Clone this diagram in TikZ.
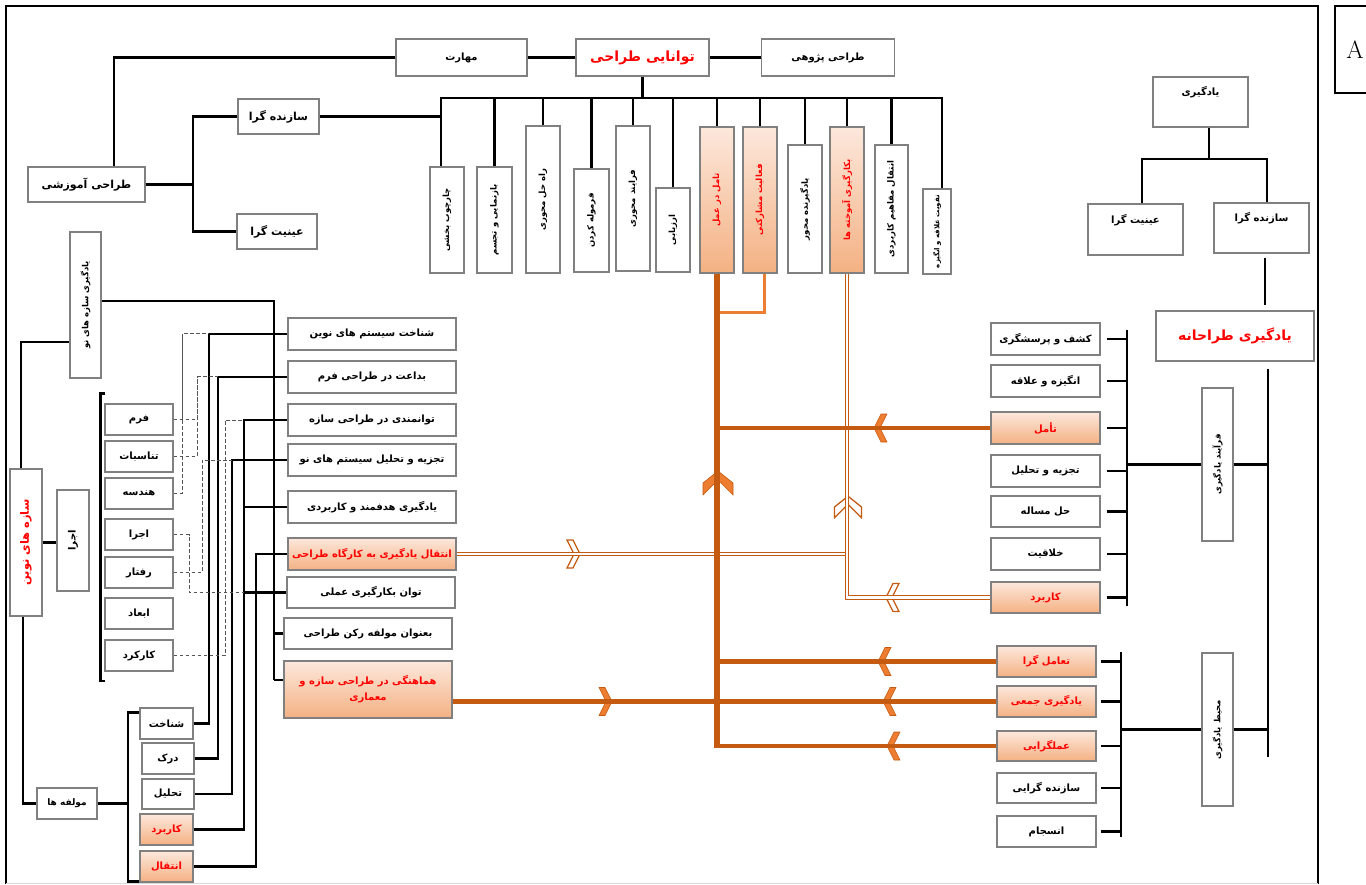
\documentclass[tikz,border=0pt]{standalone}
\usepackage{fontspec}
\usepackage{xcolor}
\usepackage{tikz}
\TeXXeTstate=1
\newfontfamily\arabicfont[Script=Arabic]{DejaVu Sans}
\newcommand\fatxt[1]{\beginR#1\endR}
\newcommand\fasize[1]{\arabicfont\bfseries\fontsize{#1}{#1}\selectfont}
\definecolor{boxgray}{HTML}{808080}
\definecolor{peachL}{HTML}{FCE8DC}
\definecolor{peachD}{HTML}{F4B183}
\definecolor{orD}{HTML}{C55A11}
\definecolor{orM}{HTML}{ED7D31}
\definecolor{txtred}{HTML}{FF0000}
\definecolor{dashgray}{HTML}{555555}
\tikzset{
  box/.style={rectangle,draw=boxgray,line width=1.2pt,fill=white,inner sep=1pt,
    align=center,font=\fasize{10}},
  obox/.style={box,top color=peachL,bottom color=peachD,text=txtred},
  vbox/.style={box,rotate=90,font=\fasize{8.5}},
  ovbox/.style={vbox,top color=peachL,bottom color=peachD,text=txtred},
  topbox/.style={box,text height=8pt,text depth=20pt},
  link/.style={line width=2.2pt,draw=black},
  dashln/.style={dash pattern=on 3.5pt off 2.5pt,line width=1pt,draw=dashgray},
  trunk/.style={line width=6pt,draw=orD},
  feed/.style={line width=4.5pt,draw=orD},
  twin/.style={draw=orD,double=white,double distance=2.2pt,line width=1.3pt},
  hook/.style={line width=3pt,draw=orM},
  solidhead/.style={draw=orD,fill=orM,line width=0.6pt},
  hollowhead/.style={draw=orD,fill=white,line width=1.3pt},
  chev/.pic={\path[pic actions] (-7,-14) -- (-1,-14) -- (6,0) -- (-1,14) -- (-7,14) -- (0,0) -- cycle;},
  bigchev/.pic={\path[pic actions] (12,0) -- (0,15) -- (-12,15) -- (3,0) -- (-12,-15) -- (0,-15) -- cycle;}
}

\begin{document}
\begin{tikzpicture}[x=1pt,y=-1pt]
\useasboundingbox (0,0) rectangle (1366,885);
% frame
\draw[line width=2.4pt] (6,884) -- (6,6) -- (1318,6) -- (1318,884);
\draw[line width=0.8pt,draw=black!15] (6,883) -- (1318,883);
\node[draw,line width=1.5pt,minimum width=40,minimum height=87,inner sep=0pt,
  font=\fontsize{25}{25}\selectfont] (tagA) at (1355,49.5) {A};

% top row
\node[box,minimum width=131,minimum height=37] (mah) at (461.5,57.5) {\fatxt{مهارت}};
\node[box,minimum width=133,minimum height=37,text=txtred,font=\fasize{14}] (tav) at (642.5,57.5) {\fatxt{توانایی طراحی}};
\node[box,minimum width=133,minimum height=37] (pzh) at (828,57.5) {\fatxt{طراحی پژوهی}};
\node[box,minimum width=117,minimum height=35,font=\fasize{11}] (amz) at (86.5,184.5) {\fatxt{طراحی آموزشی}};
\node[box,minimum width=81,minimum height=35,font=\fasize{11}] (saz1) at (278.5,116.5) {\fatxt{سازنده گرا}};
\node[box,minimum width=80,minimum height=35,font=\fasize{11}] (ein1) at (277,231.5) {\fatxt{عینیت گرا}};

% design ability comb
\node[vbox,minimum width=106,minimum height=34] (v1) at (447,220) {\fatxt{چارچوب بخشی}};
\node[vbox,minimum width=106,minimum height=35] (v2) at (494.5,220) {\fatxt{بازنمایی و تجسم}};
\node[vbox,minimum width=147,minimum height=34] (v3) at (543,199.5) {\fatxt{راه حل محوری}};
\node[vbox,minimum width=103,minimum height=35] (v4) at (591.5,220.5) {\fatxt{فرموله کردن}};
\node[vbox,minimum width=145,minimum height=34] (v5) at (633,198.5) {\fatxt{فرایند محوری}};
\node[vbox,minimum width=84,minimum height=34] (v6) at (673,230) {\fatxt{ارزیابی}};
\node[ovbox,minimum width=146,minimum height=34] (v7) at (717,200) {\fatxt{تامل در عمل}};
\node[ovbox,minimum width=146,minimum height=34] (v8) at (760,200) {\fatxt{فعالیت مشارکتی}};
\node[vbox,minimum width=128,minimum height=34] (v9) at (805,209) {\fatxt{یادگیرنده محور}};
\node[ovbox,minimum width=146,minimum height=34] (v10) at (847,200) {\fatxt{بکارگیری آموخته ها}};
\node[vbox,minimum width=128,minimum height=33] (v11) at (891.5,209) {\fatxt{انتقال مفاهیم کاربردی}};
\node[vbox,minimum width=85,minimum height=28,font=\fasize{7}] (v12) at (937,231.5) {\fatxt{تقویت علاقه و انگیزه}};

% learning side
\node[topbox,minimum width=95,minimum height=50] (yad) at (1200.5,102) {\fatxt{یادگیری}};
\node[topbox,minimum width=95,minimum height=51] (ein2) at (1135.5,229.5) {\fatxt{عینیت گرا}};
\node[topbox,minimum width=95,minimum height=50] (saz2) at (1261.5,228) {\fatxt{سازنده گرا}};
\node[box,minimum width=158,minimum height=50,text=txtred,font=\fasize{14}] (yt) at (1235,336) {\fatxt{یادگیری طراحانه}};
\node[vbox,minimum width=153,minimum height=31] (fy) at (1217.5,464.5) {\fatxt{فرآیند یادگیری}};
\node[vbox,minimum width=153,minimum height=31] (my) at (1217.5,729.5) {\fatxt{محیط یادگیری}};

\node[box,minimum width=109,minimum height=32] (r1) at (1045.5,339) {\fatxt{کشف و پرسشگری}};
\node[box,minimum width=109,minimum height=32] (r2) at (1045.5,381) {\fatxt{انگیزه و علاقه}};
\node[obox,minimum width=109,minimum height=32] (r3) at (1045.5,428) {\fatxt{تأمل}};
\node[box,minimum width=109,minimum height=32] (r4) at (1045.5,471) {\fatxt{تجزیه و تحلیل}};
\node[box,minimum width=109,minimum height=31] (r5) at (1045.5,511.5) {\fatxt{حل مساله}};
\node[box,minimum width=109,minimum height=32] (r6) at (1045.5,554) {\fatxt{خلاقیت}};
\node[obox,minimum width=109,minimum height=31] (r7) at (1045.5,597.5) {\fatxt{کاربرد}};

\node[obox,minimum width=99,minimum height=31] (s1) at (1046.5,661.5) {\fatxt{تعامل گرا}};
\node[obox,minimum width=99,minimum height=31] (s2) at (1046.5,701.5) {\fatxt{یادگیری جمعی}};
\node[obox,minimum width=99,minimum height=30] (s3) at (1046.5,746) {\fatxt{عملگرایی}};
\node[box,minimum width=99,minimum height=30] (s4) at (1046.5,788) {\fatxt{سازنده گرایی}};
\node[box,minimum width=99,minimum height=31] (s5) at (1046.5,831.5) {\fatxt{انسجام}};

% new structures side
\node[box,minimum width=168,minimum height=32] (m1) at (372,334) {\fatxt{شناخت سیستم های نوین}};
\node[box,minimum width=168,minimum height=32] (m2) at (372,377) {\fatxt{بداعت در طراحی فرم}};
\node[box,minimum width=168,minimum height=32] (m3) at (372,420) {\fatxt{توانمندی در طراحی سازه}};
\node[box,minimum width=168,minimum height=32] (m4) at (372,460) {\fatxt{تجزیه و تحلیل سیستم های نو}};
\node[box,minimum width=168,minimum height=32] (m5) at (372,507) {\fatxt{یادگیری هدفمند و کاربردی}};
\node[obox,minimum width=168,minimum height=32] (m6) at (372,554) {\fatxt{انتقال یادگیری به کارگاه طراحی}};
\node[box,minimum width=168,minimum height=31] (m7) at (371,592.5) {\fatxt{توان بکارگیری عملی}};
\node[box,minimum width=168,minimum height=31] (m8) at (368,633.5) {\fatxt{بعنوان مولفه رکن طراحی}};
\node[obox,minimum width=168,minimum height=57] (m9) at (368,689.5) {\fatxt{هماهنگی در طراحی سازه و}\\[5pt]\fatxt{معماری}};

\node[vbox,minimum width=146,minimum height=31] (ys) at (85.5,305) {\fatxt{یادگیری سازه های نو}};
\node[vbox,minimum width=147,minimum height=32,text=txtred,font=\fasize{11.5}] (sn) at (26,542.5) {\fatxt{سازه های نوین}};
\node[vbox,minimum width=101,minimum height=32,font=\fasize{10}] (ej) at (73,540.5) {\fatxt{اجرا}};
\node[box,minimum width=60,minimum height=31,font=\fasize{9}] (mol) at (67,803.5) {\fatxt{مولفه ها}};

\node[box,minimum width=68,minimum height=31] (f1) at (139,419.5) {\fatxt{فرم}};
\node[box,minimum width=68,minimum height=31] (f2) at (139,456.5) {\fatxt{تناسبات}};
\node[box,minimum width=68,minimum height=31] (f3) at (139,493.5) {\fatxt{هندسه}};
\node[box,minimum width=68,minimum height=31] (f4) at (139,534.5) {\fatxt{اجرا}};
\node[box,minimum width=68,minimum height=31] (f5) at (139,572.5) {\fatxt{رفتار}};
\node[box,minimum width=68,minimum height=31] (f6) at (139,613.5) {\fatxt{ابعاد}};
\node[box,minimum width=68,minimum height=31] (f7) at (139,655.5) {\fatxt{کارکرد}};

\node[box,minimum width=53,minimum height=31] (g1) at (166.5,723.5) {\fatxt{شناخت}};
\node[box,minimum width=52,minimum height=31] (g2) at (168,758.5) {\fatxt{درک}};
\node[box,minimum width=52,minimum height=30] (g3) at (168,794) {\fatxt{تحلیل}};
\node[obox,minimum width=53,minimum height=31] (g4) at (166.5,829.5) {\fatxt{کاربرد}};
\node[obox,minimum width=53,minimum height=31] (g5) at (166.5,866.5) {\fatxt{انتقال}};

% top connectors
\draw[link] (mah) -- (tav); \draw[link] (tav) -- (pzh);
\draw[link] (mah.west) -| ([xshift=27.5pt]amz.north);
\coordinate (ja) at (193,184.5);
\draw[link] (amz.east) -- (ja); \draw[link] (saz1.west) -| (ja); \draw[link] (ein1.west) -| (ja);
\coordinate (bar) at (642.5,98);
\draw[link] (tav.south) -- (bar);
\draw[link] ([xshift=-6pt]v1.east) |- (bar); \draw[link] ([xshift=5pt]v12.east) |- (bar);
\draw[link] (v2.east) -- (v2.east |- bar); \draw[link] (v3.east) -- (v3.east |- bar);
\draw[link] (v4.east) -- (v4.east |- bar); \draw[link] (v5.east) -- (v5.east |- bar);
\draw[link] (v6.east) -- (v6.east |- bar); \draw[link] (v7.east) -- (v7.east |- bar);
\draw[link] (v8.east) -- (v8.east |- bar); \draw[link] (v9.east) -- (v9.east |- bar);
\draw[link] (v10.east) -- (v10.east |- bar); \draw[link] (v11.east) -- (v11.east |- bar);
\draw[link] (saz1.east) -- ([xshift=-6pt]v1.east |- saz1.east);

% learning connectors
\coordinate (jy) at (1209,159);
\draw[link] ([xshift=8.5pt]yad.south) -- (jy);
\draw[link] ([xshift=6.5pt]ein2.north) |- (jy); \draw[link] ([xshift=5.5pt]saz2.north) |- (jy);
\draw[link,shorten <=4pt,shorten >=5pt] ([xshift=3.5pt]saz2.south) -- ([xshift=3.5pt]saz2.south |- yt.north);
\coordinate (rb) at (1268,757);
\draw[link,shorten <=7pt] ([xshift=33pt]yt.south) -- (rb);
\draw[link] (fy.south) -- (fy.south -| rb); \draw[link] (my.south) -- (my.south -| rb);
\coordinate (ca) at (1127,330); \coordinate (cb) at (1127,606);
\draw[link] (ca) -- (cb); \draw[link] (fy.north) -- (fy.north -| ca);
\draw[link,shorten <=6pt] (r1.east) -- (r1.east -| ca); \draw[link,shorten <=6pt] (r2.east) -- (r2.east -| ca);
\draw[link,shorten <=6pt] (r3.east) -- (r3.east -| ca); \draw[link,shorten <=6pt] (r4.east) -- (r4.east -| ca);
\draw[link,shorten <=6pt] (r5.east) -- (r5.east -| ca); \draw[link,shorten <=6pt] (r6.east) -- (r6.east -| ca);
\draw[link,shorten <=6pt] (r7.east) -- (r7.east -| ca);
\coordinate (cc) at (1121,652); \coordinate (cd) at (1121,837);
\draw[link] (cc) -- (cd); \draw[link] (my.north) -- (my.north -| cc);
\draw[link,shorten <=4pt] (s1.east) -- (s1.east -| cc); \draw[link,shorten <=4pt] (s2.east) -- (s2.east -| cc);
\draw[link,shorten <=4pt] (s3.east) -- (s3.east -| cc); \draw[link,shorten <=4pt] (s4.east) -- (s4.east -| cc);
\draw[link,shorten <=4pt] (s5.east) -- (s5.east -| cc);

% orange flow
\pic[solidhead,rotate=90] at (718,483) {bigchev};
\pic[solidhead,rotate=180] at (880,428) {chev};
\pic[solidhead,rotate=180] at (884,661.5) {chev};
\pic[solidhead,rotate=180] at (889,701.5) {chev};
\pic[solidhead,rotate=180] at (893,746) {chev};
\pic[solidhead] at (606,701.5) {chev};
\pic[hollowhead] at (574,554) {chev};
\pic[hollowhead,rotate=90,scale=0.9] at (848,507) {bigchev};
\pic[hollowhead,rotate=180] at (892,597.5) {chev};
\draw[twin] (m6.east) -- (v10.west |- m6.east);
\draw[twin] (v10.west) |- (r7.west);
\draw[hook] ([xshift=4pt]v8.west) |- ([yshift=-39pt]v7.west);
\draw[feed] (m9.east |- s2.west) -- (s2.west);
\draw[feed] (v7.west |- r3.west) -- (r3.west);
\draw[feed] (v7.west |- s1.west) -- (s1.west);
\draw[feed] (v7.west |- s3.west) -- (s3.west);
\draw[trunk] (v7.west) -- ([yshift=-2pt]v7.west |- s3.west);

% new structures connectors
\coordinate (yb) at (274,680);
\draw[link] ([yshift=4pt]ys.south) -| (yb);
\draw[link] (m1.west -| yb) -- (m1.west); \draw[link] (m2.west -| yb) -- (m2.west);
\draw[link] (m3.west -| yb) -- (m3.west); \draw[link] (m4.west -| yb) -- (m4.west);
\draw[link] (m5.west -| yb) -- (m5.west); \draw[link] (m6.west -| yb) -- (m6.west);
\draw[link] (m7.west -| yb) -- (m7.west); \draw[link] (m8.west -| yb) -- (m8.west);
\draw[link] (yb) -- (yb -| m9.west);
\coordinate (sa) at (209,334); \coordinate (sb) at (218,377); \coordinate (sc) at (232,460);
\coordinate (sd) at (244,420); \coordinate (se) at (256,554);
\draw[link] (g1.east) -| (sa) -- (m1.west);
\draw[link] (g2.east) -| (sb) -- (m2.west);
\draw[link] (g3.east) -| (sc) -- (m4.west);
\draw[link] (g4.east) -| (sd) -- (m3.west);
\draw[link] (sd |- m5.west) -- (m5.west); \draw[link] (sd |- m7.west) -- (m7.west);
\draw[link] (g5.east) -| (se) -- (m6.west);
\coordinate (da) at (182,334); \coordinate (db) at (197,377); \coordinate (dc) at (202,460);
\coordinate (dd) at (225,420); \coordinate (de) at (189,592.5);
\draw[dashln] (f1.east) -| (da) -- (sa); \draw[dashln] (f3.east) -| (da);
\draw[dashln] (f1.east) -| (db) -- (sb); \draw[dashln] (f2.east) -| (db);
\draw[dashln] (f5.east) -| (dc) -- (sc);
\draw[dashln] (f7.east) -| (dd) -- (sd);
\draw[dashln] (f4.east) -| (de) -- (sd |- de);
\draw[link] ([xshift=1pt,yshift=10pt]f1.north west) -| ([xshift=-4pt,yshift=-9pt]f7.south west) -- ([xshift=1pt,yshift=-9pt]f7.south west);
\draw[link] (sn.south) -- (sn.south -| ej.north);
\draw[link] ([xshift=-5pt]sn.east) |- ([yshift=-37pt]ys.north);
\draw[link] ([xshift=-3pt]sn.west) |- (mol.west);
\coordinate (mj) at (128,803.5);
\draw[link] (mol.east) -- (mj);
\draw[link] ([yshift=11pt]g1.west) -| (mj); \draw[link] ([yshift=-15pt]g5.west) -| (mj);
\end{tikzpicture}
\end{document}
